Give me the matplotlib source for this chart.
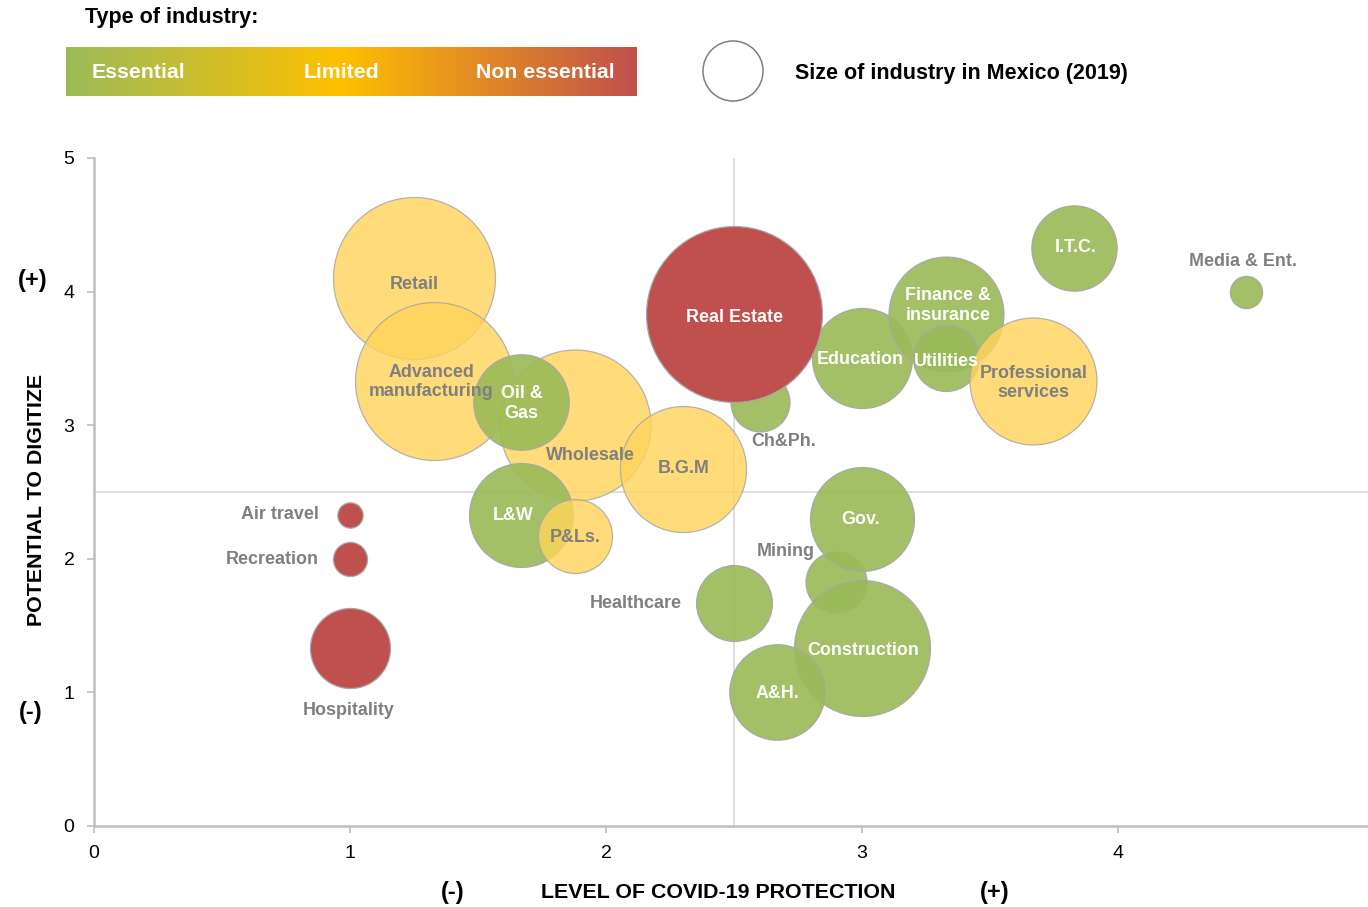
import matplotlib
matplotlib.use("Agg")
import matplotlib.pyplot as plt
import numpy as np
from matplotlib.colors import LinearSegmentedColormap

plt.rcParams['font.family'] = ['Liberation Sans', 'DejaVu Sans']

# industries, drawn in this order (later ones sit on top)
industries = ['Retail', 'Advanced\nmanufacturing', 'Wholesale', 'Oil &\nGas', 'B.G.M',
              'Ch&Ph.', 'Education', 'Real Estate', 'Finance &\ninsurance', 'Utilities',
              'Professional\nservices', 'I.T.C.', 'Media & Ent.', 'Air travel', 'Recreation',
              'Hospitality', 'L&W', 'P&Ls.', 'Mining', 'Gov.', 'Healthcare',
              'Construction', 'A&H.']
covid_protection = [1.25, 1.33, 1.88, 1.67, 2.30,
                    2.60, 3.00, 2.50, 3.33, 3.33,
                    3.67, 3.83, 4.50, 1.00, 1.00,
                    1.00, 1.67, 1.88, 2.90, 3.00, 2.50,
                    3.00, 2.67]
digitize = [4.10, 3.33, 3.00, 3.17, 2.67,
            3.17, 3.50, 3.83, 3.83, 3.50,
            3.33, 4.33, 4.00, 2.33, 2.00,
            1.33, 2.33, 2.17, 1.83, 2.30, 1.67,
            1.33, 1.00]
# relative size of industry (bubble area)
industry_size = [65.6, 62.4, 57.0, 22.8, 39.7,
                 8.7, 25.0, 77.4, 33.0, 10.9,
                 40.3, 18.2, 2.6, 1.6, 2.9,
                 16.0, 27.0, 13.7, 9.3, 27.0, 14.4,
                 46.2, 22.8]
industry_type = ['Limited', 'Limited', 'Limited', 'Essential', 'Limited',
                 'Essential', 'Essential', 'Non essential', 'Essential', 'Essential',
                 'Limited', 'Essential', 'Essential', 'Non essential', 'Non essential',
                 'Non essential', 'Essential', 'Limited', 'Essential', 'Essential', 'Essential',
                 'Essential', 'Essential']

type_colors = {'Essential': '#9bbb59', 'Limited': '#ffd45c', 'Non essential': '#c0504d'}
type_alpha = {'Essential': 0.92, 'Limited': 0.82, 'Non essential': 1.0}

# label placement: offset in pixels from bubble centre, text colour, alignment
label_style = {
    'Retail': ((0, -6), 'gray', 'center'),
    'Advanced\nmanufacturing': ((-3, -1), 'gray', 'center'),
    'Wholesale': ((15, -30), 'gray', 'center'),
    'Oil &\nGas': ((0, -1), 'white', 'center'),
    'B.G.M': ((1, 1), 'gray', 'center'),
    'Ch&Ph.': ((24, -39), 'gray', 'center'),
    'Education': ((-2, -1), 'white', 'center'),
    'Real Estate': ((1, -3), 'white', 'center'),
    'Finance &\ninsurance': ((2, 9), 'white', 'center'),
    'Utilities': ((0, -3), 'white', 'center'),
    'Professional\nservices': ((0, -2), 'gray', 'center'),
    'I.T.C.': ((1, 0), 'white', 'center'),
    'Media & Ent.': ((-3, 30), 'gray', 'center'),
    'Air travel': ((-31, 0), 'gray', 'right'),
    'Recreation': ((-31, -1), 'gray', 'right'),
    'Hospitality': ((-1, -62), 'gray', 'center'),
    'L&W': ((-8, -1), 'white', 'center'),
    'P&Ls.': ((0, -1), 'gray', 'center'),
    'Mining': ((-51, 30), 'gray', 'center'),
    'Gov.': ((-1, -1), 'white', 'center'),
    'Healthcare': ((-52, -1), 'gray', 'right'),
    'Construction': ((1, -2), 'white', 'center'),
    'A&H.': ((0, -1), 'white', 'center'),
}

W, H = 1368, 907
fig = plt.figure(figsize=(W / 100, H / 100), dpi=100)


def fx(x):
    return x / W


def fy(y):
    return 1 - y / H


ax = fig.add_axes([fx(94), fy(826), fx(1368) - fx(94), fy(158) - fy(826)])
ax.set_xlim(0, 4.977)
ax.set_ylim(0, 5)

ax.axvline(2.5, color='#d9d9d9', lw=1.2, zorder=0)
ax.axhline(2.5, color='#d9d9d9', lw=1.2, zorder=0)

for i, name in enumerate(industries):
    t = industry_type[i]
    ax.scatter(covid_protection[i], digitize[i], s=industry_size[i] * 207.4,
               color=type_colors[t], alpha=type_alpha[t], edgecolors='#a6a6a6',
               linewidths=0.9, zorder=2 + i * 0.01)
    (dx, dy), col, ha = label_style[name]
    ax.annotate(name, (covid_protection[i], digitize[i]), xytext=(dx * 0.72, dy * 0.72),
                textcoords='offset points', ha=ha, va='center', fontsize=12.9,
                fontweight='bold', color='white' if col == 'white' else '#7f7f7f',
                linespacing=1.2, zorder=5)

for s in ['top', 'right']:
    ax.spines[s].set_visible(False)
for s in ['left', 'bottom']:
    ax.spines[s].set_color('#bfbfbf')
    ax.spines[s].set_linewidth(1.8)
ax.set_xticks([0, 1, 2, 3, 4])
ax.set_yticks([0, 1, 2, 3, 4, 5])
ax.tick_params(colors='#bfbfbf', labelcolor='black', labelsize=14, length=5, width=1.2)
ax.tick_params(axis='x', pad=9)
ax.tick_params(axis='y', pad=9)

# axis titles
fig.text(fx(718), fy(892), 'LEVEL OF COVID-19 PROTECTION', ha='center', va='center',
         fontsize=15.4, fontweight='bold')
fig.text(fx(453), fy(892), '(-)', ha='center', va='center', fontsize=17, fontweight='bold')
fig.text(fx(995), fy(892), '(+)', ha='center', va='center', fontsize=17, fontweight='bold')
fig.text(fx(37), fy(500), 'POTENTIAL TO DIGITIZE', ha='center', va='center', rotation=90,
         fontsize=15.4, fontweight='bold')
fig.text(fx(33), fy(280), '(+)', ha='center', va='center', fontsize=17, fontweight='bold')
fig.text(fx(31), fy(712), '(-)', ha='center', va='center', fontsize=17, fontweight='bold')

# legend: type of industry gradient
fig.text(fx(85), fy(18), 'Type of industry:', ha='left', va='center', fontsize=15.5,
         fontweight='bold')
lax = fig.add_axes([fx(66), fy(96), fx(637) - fx(66), fy(47) - fy(96)])
cmap = LinearSegmentedColormap.from_list('ind', [(0, '#9bbb59'), (0.48, '#ffc000'),
                                                 (1, '#c0504d')])
lax.imshow(np.linspace(0, 1, 256)[None, :], aspect='auto', cmap=cmap, extent=(0, 1, 0, 1))
lax.set_axis_off()
lax.text(0.045, 0.47, 'Essential', color='white', fontsize=15.3, fontweight='bold',
         va='center', ha='left', transform=lax.transAxes)
lax.text(0.482, 0.47, 'Limited', color='white', fontsize=15.3, fontweight='bold',
         va='center', ha='center', transform=lax.transAxes)
lax.text(0.96, 0.47, 'Non essential', color='white', fontsize=15.3, fontweight='bold',
         va='center', ha='right', transform=lax.transAxes)

# legend: size circle
cax = fig.add_axes([fx(700), fy(104), fx(766) - fx(700), fy(38) - fy(104)])
cax.set_xlim(0, 1)
cax.set_ylim(0, 1)
cax.add_patch(plt.Circle((0.5, 0.5), 0.455, facecolor='white', edgecolor='#7f7f7f', lw=1.1))
cax.set_axis_off()
fig.text(fx(795), fy(73), 'Size of industry in Mexico (2019)', ha='left', va='center',
         fontsize=15.5, fontweight='bold')

fig.savefig('out.png', dpi=100)
